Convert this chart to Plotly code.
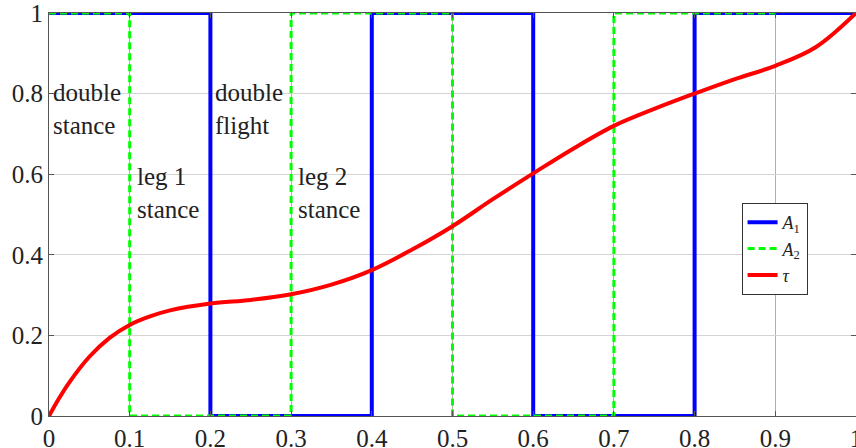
import plotly.graph_objects as go

# Data
a1_t = [0.0, 0.2, 0.4, 0.6, 0.8, 1.0]
a1_v = [1, 0, 1, 0, 1, 1]
a2_t = [0.0, 0.1, 0.3, 0.5, 0.7, 0.9]
a2_v = [1, 0, 1, 0, 1, 1]
tau_t = [0.0, 0.0125, 0.025, 0.05, 0.075, 0.1, 0.125, 0.15, 0.2, 0.25, 0.3, 0.35, 0.4, 0.45,
         0.5, 0.55, 0.6, 0.65, 0.7, 0.75, 0.8, 0.85, 0.9, 0.95, 1.0]
tau_v = [0.0, 0.044, 0.083, 0.147, 0.194, 0.226, 0.247, 0.262, 0.279, 0.288, 0.302, 0.326,
         0.362, 0.413, 0.471, 0.538, 0.602, 0.664, 0.72, 0.762, 0.8, 0.836, 0.869, 0.915, 1.0]
x_ticks = [0, 0.1, 0.2, 0.3, 0.4, 0.5, 0.6, 0.7, 0.8, 0.9, 1]
x_tick_labels = ["0", "0.1", "0.2", "0.3", "0.4", "0.5", "0.6", "0.7", "0.8", "0.9", "1"]
y_ticks = [0, 0.2, 0.4, 0.6, 0.8, 1]
y_tick_labels = ["0", "0.2", "0.4", "0.6", "0.8", "1"]
phase_labels = ["double<br>stance", "leg 1<br>stance", "double<br>flight", "leg 2<br>stance"]
phase_x = [0.003, 0.106, 0.203, 0.306]
phase_y = [0.762, 0.553, 0.762, 0.553]

FONT = "Liberation Serif"

fig = go.Figure()
fig.add_trace(go.Scatter(x=a1_t, y=a1_v, mode="lines", line_shape="hv",
                         line=dict(color="#0000ff", width=4), name="<i>A</i><sub>1</sub>"))
fig.add_trace(go.Scatter(x=a2_t, y=a2_v, mode="lines", line_shape="hv",
                         line=dict(color="#00ff00", width=3, dash="7px,4px"),
                         name="<i>A</i><sub>2</sub>"))
fig.add_trace(go.Scatter(x=tau_t, y=tau_v, mode="lines", line_shape="spline",
                         line=dict(color="#ff0000", width=4), name="<i>τ</i>"))

for txt, px, py in zip(phase_labels, phase_x, phase_y):
    fig.add_annotation(x=px, y=py, xref="x", yref="y", text=txt, showarrow=False,
                       xanchor="left", yanchor="middle", align="left",
                       font=dict(family=FONT, size=25, color="#222"))

axis_common = dict(showline=True, linecolor="#555", linewidth=1, mirror="ticks",
                   ticks="inside", ticklen=5, tickcolor="#555", showgrid=True,
                   zeroline=False, ticklabeloverflow="allow",
                   tickfont=dict(family=FONT, size=25, color="#222"))

fig.update_xaxes(range=[0, 1], tickvals=x_ticks, ticktext=x_tick_labels,
                 gridcolor="#b0b0b0", gridwidth=1, **axis_common)
fig.update_yaxes(range=[0, 1], tickvals=y_ticks, ticktext=y_tick_labels,
                 gridcolor="#d4d4d4", gridwidth=1, **axis_common)

fig.update_layout(
    width=856, height=448,
    margin=dict(l=49, r=0, t=13, b=32, autoexpand=False),
    paper_bgcolor="white", plot_bgcolor="white",
    legend=dict(x=0.94, y=0.5285, xanchor="right", yanchor="top",
                bgcolor="white", bordercolor="#333", borderwidth=1,
                font=dict(family=FONT, size=18, color="#222"),
                tracegroupgap=0),
    font=dict(family=FONT),
)

fig.write_html("out.html", config={"displayModeBar": False},
               post_script="document.body.style.margin='0';document.body.style.overflow='hidden';")
